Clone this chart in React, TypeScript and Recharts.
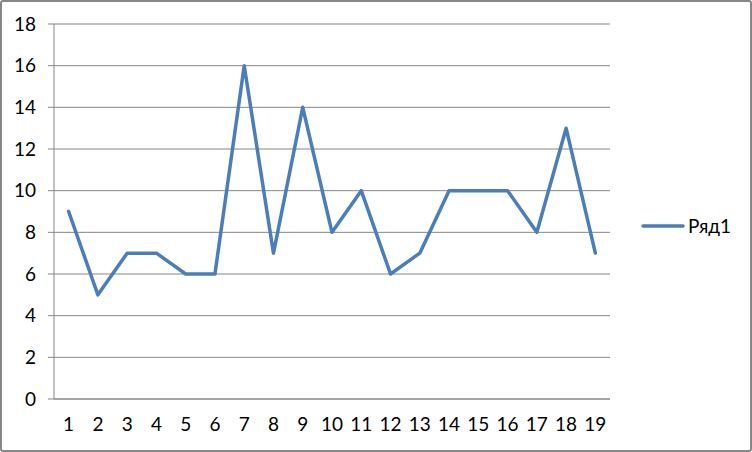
import { LineChart, Line, XAxis, YAxis, CartesianGrid } from 'recharts';

const CATEGORIES = [1, 2, 3, 4, 5, 6, 7, 8, 9, 10, 11, 12, 13, 14, 15, 16, 17, 18, 19];
const SERIES_1 = [9, 5, 7, 7, 6, 6, 16, 7, 14, 8, 10, 6, 7, 10, 10, 10, 8, 13, 7];
const SERIES_NAME = 'Ряд1';
const Y_TICKS = [0, 2, 4, 6, 8, 10, 12, 14, 16, 18];
// tick marks sit between categories, like Excel
const BOUNDARIES = [0, ...CATEGORIES].map((c) => c + 0.5);

const GRAY = '#868686';
const LINE = '#4a7ebb';
const FONT = 'Lato, "Open Sans", sans-serif';
const TICK = { fill: '#000', fontSize: 19, fontFamily: FONT };

const data = CATEGORIES.map((c, i) => ({ x: c, v: SERIES_1[i] }));

export default function App() {
  return (
    <div style={{ position: 'absolute', left: 0, top: 0, width: 752, height: 452, background: '#fff' }}>
      <LineChart
        width={752}
        height={452}
        data={data}
        margin={{ top: 24, right: 142, bottom: 0, left: 0 }}
      >
        <CartesianGrid vertical={false} stroke={GRAY} strokeWidth={1} />
        <XAxis
          xAxisId="marks"
          dataKey="x"
          type="number"
          domain={[0.5, 19.5]}
          ticks={BOUNDARIES}
          tick={false}
          axisLine={false}
          tickLine={{ stroke: GRAY }}
          tickSize={6}
          height={0}
        />
        <XAxis
          dataKey="x"
          type="number"
          domain={[0.5, 19.5]}
          ticks={CATEGORIES}
          interval={0}
          tick={TICK}
          tickLine={false}
          axisLine={{ stroke: GRAY }}
          tickSize={6}
          tickMargin={13}
          height={53}
        />
        <YAxis
          domain={[0, 18]}
          ticks={Y_TICKS}
          interval={0}
          tick={TICK}
          axisLine={{ stroke: GRAY }}
          tickLine={{ stroke: GRAY }}
          tickSize={6}
          tickMargin={12}
          width={54}
        />
        <Line
          dataKey="v"
          name={SERIES_NAME}
          stroke={LINE}
          strokeWidth={3.5}
          strokeLinejoin="round"
          strokeLinecap="round"
          dot={false}
          activeDot={false}
          isAnimationActive={false}
        />
      </LineChart>
      <div
        style={{
          position: 'absolute',
          left: 641,
          top: 214,
          display: 'flex',
          alignItems: 'center',
          fontFamily: FONT,
          fontSize: 19,
          color: '#000',
        }}
      >
        <svg width={44} height={8} style={{ marginRight: 3 }}>
          <line x1={2} y1={4} x2={42} y2={4} stroke={LINE} strokeWidth={3.5} strokeLinecap="round" />
        </svg>
        <span>{SERIES_NAME}</span>
      </div>
      <div
        style={{
          position: 'absolute',
          left: 0,
          top: 0,
          width: 752,
          height: 452,
          boxSizing: 'border-box',
          border: `2px solid ${GRAY}`,
          borderRadius: 3,
          pointerEvents: 'none',
        }}
      />
    </div>
  );
}
